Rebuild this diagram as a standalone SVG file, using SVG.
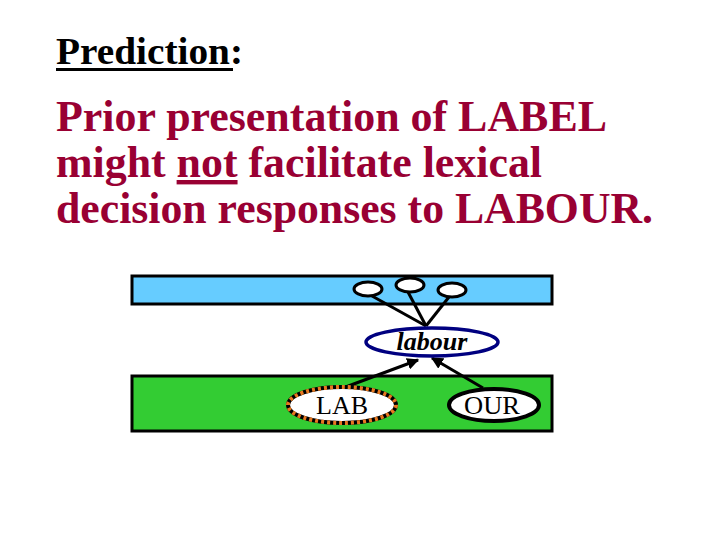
<svg xmlns="http://www.w3.org/2000/svg" width="720" height="540" viewBox="0 0 720 540">
<style>
.t{font-family:"Liberation Serif","Times New Roman",serif;font-weight:bold}
.h{font-size:38px;fill:#000}
.r{font-size:44px;fill:#990033}
.n{font-family:"Liberation Serif","Times New Roman",serif;font-size:26px;fill:#000;text-anchor:middle}
.c{stroke:#000;stroke-width:3;fill:none}
</style>
<defs>
<marker id="ah" viewBox="0 0 10 10" refX="9" refY="5" markerWidth="4" markerHeight="4" orient="auto"><path d="M0,0 L10,5 L0,10 z" fill="#000"/></marker>
</defs>
<rect width="720" height="540" fill="#fff"/>
<g id="title">
<text class="t h" x="56" y="64" textLength="187" lengthAdjust="spacingAndGlyphs">Prediction:</text>
<rect x="56" y="68" width="177" height="3" fill="#000"/>
</g>
<g id="body">
<text class="t r" x="56" y="131" textLength="551" lengthAdjust="spacingAndGlyphs">Prior presentation of LABEL</text>
<text class="t r" x="56" y="177" textLength="486" lengthAdjust="spacingAndGlyphs">might <tspan text-decoration="underline">not</tspan> facilitate lexical</text>
<text class="t r" x="56" y="223" textLength="597" lengthAdjust="spacingAndGlyphs">decision responses to LABOUR.</text>
</g>
<g id="semantic-layer"><rect x="132" y="276" width="420" height="28" fill="#66ccff" stroke="#000" stroke-width="3"/></g>
<g id="morph-layer"><rect x="132" y="376" width="420" height="55" fill="#33cc33" stroke="#000" stroke-width="3"/></g>
<g id="connectors">
<line class="c" x1="372" y1="296" x2="426" y2="326"/>
<line class="c" x1="408" y1="292" x2="426" y2="326"/>
<line class="c" x1="449" y1="297" x2="426" y2="326"/>
<line class="c" x1="343" y1="388" x2="418" y2="360" marker-end="url(#ah)"/>
<line class="c" x1="483" y1="388" x2="432" y2="358" marker-end="url(#ah)"/>
</g>
<g id="sem1"><ellipse cx="368" cy="289" rx="14" ry="7" fill="#fff" stroke="#000" stroke-width="3"/></g>
<g id="sem2"><ellipse cx="410" cy="285" rx="14" ry="7" fill="#fff" stroke="#000" stroke-width="3"/></g>
<g id="sem3"><ellipse cx="452" cy="290" rx="14" ry="7" fill="#fff" stroke="#000" stroke-width="3"/></g>
<g id="labour"><ellipse cx="432" cy="342" rx="66" ry="14" fill="#fff" stroke="#000080" stroke-width="3.5"/><text class="n" x="432" y="350" font-size="24" font-style="italic" font-weight="bold">labour</text></g>
<g id="lab"><ellipse cx="342" cy="405" rx="54" ry="18" fill="#fff" stroke="#000" stroke-width="4"/><ellipse cx="342" cy="405" rx="54" ry="18" fill="none" stroke="#e87820" stroke-width="4" stroke-dasharray="3 3"/><text class="n" x="342" y="414">LAB</text></g>
<g id="our"><ellipse cx="494" cy="405" rx="45" ry="16" fill="#fff" stroke="#000" stroke-width="4"/><text class="n" x="492" y="414" textLength="56" lengthAdjust="spacingAndGlyphs">OUR</text></g>
</svg>
